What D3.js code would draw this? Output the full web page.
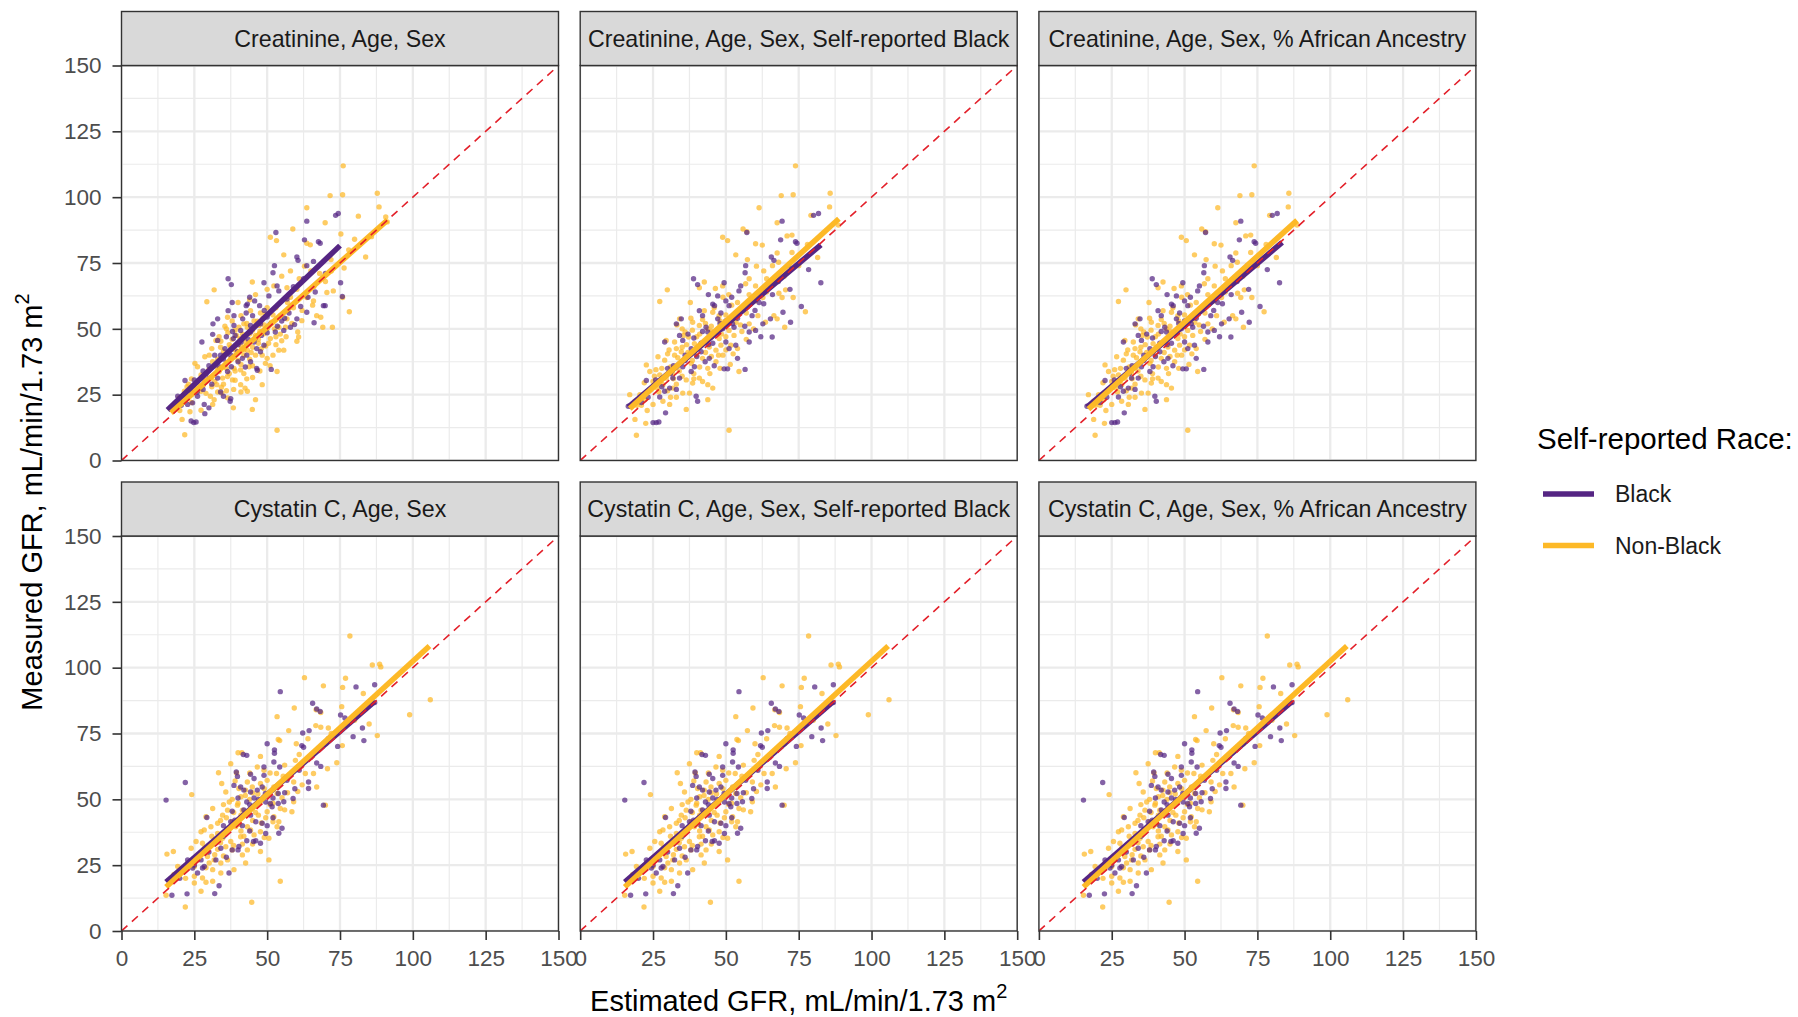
<!DOCTYPE html>
<html><head><meta charset="utf-8">
<script src="https://cdn.jsdelivr.net/npm/d3@7"></script>
<style>body{margin:0;background:#fff;} svg{display:block;font-family:"Liberation Sans",Arial,Helvetica,sans-serif;}</style>
</head><body><svg id="chart" width="1798" height="1017"></svg>
<script>
// ---------------- DATA ----------------
const facetTitles = [
  "Creatinine, Age, Sex",
  "Creatinine, Age, Sex, Self-reported Black",
  "Creatinine, Age, Sex, % African Ancestry",
  "Cystatin C, Age, Sex",
  "Cystatin C, Age, Sex, Self-reported Black",
  "Cystatin C, Age, Sex, % African Ancestry"
];
const xTicks = [0,25,50,75,100,125,150];
const yTicks = [0,25,50,75,100,125,150];
const groups = ["Black","Non-Black"];
const xTitle = "Estimated GFR, mL/min/1.73 m";
const yTitle = "Measured GFR, mL/min/1.73 m";
const legendTitle = "Self-reported Race:";

// Creatinine, Age, Sex  [eGFR, mGFR]
const creatBlack = [[63.6,90.9],[73.5,93.1],[74.4,93.8],[53,86.6],[62.8,83.8],[67.6,83.1],[68.2,82.5],[60.2,77.3],[60.6,76],[65.9,75.6],[63.6,74],[52.5,74],[52,71.3],[36.6,69],[37.7,66.8],[48.9,67.5],[53.4,66.3],[54,64.4],[50.6,62.5],[43.2,59.4],[42.8,58.8],[45.7,60.6],[47.4,58.8],[56.8,61.3],[31.4,51.9],[33,53.8],[36.6,56.9],[38.6,55],[41.6,53.8],[42.8,56],[27.6,45],[31.3,47.9],[33,45.6],[38.1,49],[40.9,49.4],[38.6,51.3],[44.3,51.3],[47.7,51.9],[51.1,51.9],[44.3,48.8],[55.7,49.4],[58,50.6],[60.2,53.8],[63.6,56.3],[66.1,52.3],[69.3,58.8],[59.4,51.6],[45.5,45],[46.4,42.5],[48.9,43.8],[47.7,41.3],[52.8,48.8],[35.5,42.5],[39.8,41.3],[38.4,46.3],[41.5,38.8],[40,37.5],[44.3,37.5],[46.4,35],[46.6,34.3],[51.4,34.6],[37.7,35.6],[36.4,33.8],[33.5,35.6],[21.8,30.4],[25,30.6],[30.1,31.3],[33,31.3],[35,24.4],[37.5,23.5],[37.3,22.5],[28.4,21.3],[28.6,17.8],[23.9,15],[24.8,14.4],[25.6,14.6],[19.3,24.4],[22.7,21.3],[24.4,21.9],[26.1,24.4],[75.2,67.5],[75.8,62.3],[69.9,58.8],[42,47],[45,55],[49,57],[36,47],[34,40],[30,36],[28,27],[40,44],[43,40],[56,54],[29,33],[26,26],[39,47.5],[41,45],[43.5,46],[46,46.5],[48,47.5],[50,48.5],[53.5,51],[55,53],[57.5,56],[61.5,58.5],[64,62],[66.5,64],[59,66],[62.5,69],[70,71],[32,40],[35,38.5],[37.5,40],[42.5,35.5],[28,34],[31,29],[24,26],[20.5,21],[34,26],[30,20],[44,62],[38,60],[50,54.5]];
const creatNonBlack = [[76.1,111.9],[71.6,100.6],[75.9,100.9],[87.8,101.5],[63.6,96],[88.4,96.3],[69.9,90.3],[81.3,92.8],[90.7,92.5],[91.2,90.6],[58.8,87.9],[51.1,84.8],[53.2,83.5],[75.3,86],[63.6,82.5],[64.8,81.9],[85.8,85],[55.7,78.1],[71.9,76.3],[76.4,73.1],[83.8,77.3],[62.8,73.8],[44.9,67.8],[31.8,64.8],[52.3,66.3],[56.8,65.6],[60.2,65],[70.5,63.8],[72.7,64.4],[75.9,61.9],[29.3,60.3],[40,60],[63.6,61.9],[65.9,60.6],[65.6,59],[78.2,56.5],[44.3,56.9],[47.7,56],[49.4,55.6],[36.4,54.4],[52,55.3],[54.5,55],[67,55],[68.4,54.4],[56.8,53.8],[61.9,53.1],[35.5,51],[40.3,50.6],[42,51.9],[43.2,50.6],[46.6,52.9],[47.2,51.3],[69.1,50.6],[72.4,50.6],[54,50.6],[56.3,50.6],[60.5,48.8],[60.8,46.9],[32.4,45.6],[34.1,45.3],[39.5,47.5],[40.7,46.3],[42.6,45],[48.9,48.1],[51.1,46.3],[54,41.9],[55.7,41.9],[60.2,45.3],[28.6,39.4],[30.1,40],[35.2,40],[37.5,38.8],[42,40],[43.2,41.9],[48.3,40],[50,38.8],[49.4,36.9],[25.2,36.9],[26.1,35.6],[31.3,37.5],[33.5,33.8],[38.6,35],[40.9,34.4],[43.8,35.6],[53.4,33.8],[27.3,32.5],[29,30.6],[30.7,31.3],[34.7,31.3],[36.4,31.9],[38.1,30.6],[32.7,28.8],[34.3,27.8],[40.9,28.8],[42.4,27.5],[48.3,28.8],[26.1,27.5],[27.3,26.3],[30.5,24.4],[31.8,23.1],[34.4,25.6],[36.4,23.8],[43.2,26.3],[46,23.1],[21.6,26.3],[22.2,24.4],[19.7,23.8],[21,21.9],[18.2,20],[27.3,19.1],[38.4,20],[44.9,19.4],[20.8,15.6],[21.7,9.8],[53.4,11.5],[31.3,21.3],[36,50],[38,53],[41,55],[44,48],[45.5,53],[47,46],[48.5,54],[50,50],[51.5,52.5],[53,47],[41,43.5],[45,43],[47,44.5],[49.5,43.5],[39,42],[37,44],[35,41.5],[33,38.5],[36,37],[40,38],[44,38.5],[46,40],[52,40],[32,30],[35,29],[37,33],[39,30.5],[43,31],[28,28.5],[24,22],[25,27],[29,25.5],[33,26],[23,29],[38,46],[46,47.5],[50,58],[44,61],[57,57],[62,57],[58,62],[66,66],[68,71],[61,69],[33.5,47],[36.5,48.5],[39,49.5],[41.5,48],[43,52],[45,49.5],[47.5,49],[49,51.5],[52.5,50],[54.5,48],[56.5,47],[58.5,52],[37.5,43],[42,42],[44.5,41],[48,42.5],[50.5,44.5],[53,44],[55,45.5],[31,42.5],[34,43],[38.5,39.5],[41,36.5],[45,36],[47.5,34],[51,36],[30,34.5],[33,35],[36,35],[39,34],[42,33],[45,31.5],[28.5,30],[31,28],[36,26.5],[38.5,27],[41,26],[24,31],[22.5,28],[26,29.5],[20,19],[23.5,18.5],[57,60],[59,58],[53,58],[46,63],[50,65],[55,70],[58,72],[65,72],[70,68],[72,72],[78,80],[80,84]];

// Creatinine with race / ancestry terms
const creatRaceBlack = [[69.3,90.9],[80.1,93.1],[81.8,93.8],[57.2,86.6],[68.8,83.8],[73.9,83.1],[74.4,82.5],[65.6,77.3],[66.5,76],[71.6,74],[56.8,74],[56.6,71.3],[38.9,69],[40.3,66.8],[49.4,67.5],[55.1,66.3],[54.5,64.4],[47.2,62.5],[45.5,59.4],[46.1,58.8],[50,60.6],[51.1,58.8],[61.4,60],[34.7,53.8],[33,51.9],[40.9,56.9],[42,55],[47.2,53.8],[48.3,56],[29,45],[34.1,47.5],[35.2,45.6],[42,49],[43.8,48.8],[43.2,50.6],[48.9,50],[52.3,51.9],[52.8,50.6],[58,48.8],[60.2,49.4],[62.7,51.9],[65.3,53.8],[65.9,46.9],[69.6,56.3],[72.2,52.5],[75.9,58.5],[78.4,72.5],[82.6,67.5],[50,45],[51.1,42.5],[53.4,43.8],[54,38.8],[38.1,42.5],[41.5,41.3],[44.3,38.8],[42.9,37.5],[49.4,34.8],[50.6,34.8],[56.6,34.6],[39.2,35.6],[38.1,33.8],[35.2,35.6],[22.7,30.4],[25.9,30.6],[31.8,31.3],[34.1,31.3],[39.8,24.4],[40.3,22.5],[29.3,18.1],[25,14.4],[26.1,14.4],[27,14.6],[16.5,20.6],[20.5,23.8],[23.3,24],[27.3,24.1],[29,26.3],[30.7,27.5],[45,47],[48,52],[37,48],[36,40],[32,36],[28,28],[44,44],[59,55],[31,33],[39,46.5],[41.5,44.5],[45.5,44.5],[47,48.5],[50,53],[54,54],[56.5,51],[60,57],[63,59.5],[66,63],[68,68],[72,65],[36,38],[40,39.5],[46,36],[30,35],[27,30],[24,27],[21,22],[33,27],[44,63],[52,62],[58,45],[62,47]];
const creatRaceNonBlack = [[73.9,111.9],[69,100.6],[73.1,100.9],[85.8,101.5],[61.4,96],[85.6,96.3],[79.2,93.1],[88.6,89.4],[67.6,90.3],[55.9,87.9],[57.2,86.9],[48.9,84.8],[50.6,83.5],[71,85.3],[72.7,85.6],[60.2,82.3],[62.5,81.8],[67.6,78.8],[72.7,79],[53.4,78.1],[57.4,76.3],[81.5,77.1],[68.1,75.3],[60.5,73.8],[42.6,67.8],[40.9,65.6],[29.9,64.8],[48.9,66.3],[56.8,67.1],[60.2,66.3],[70.5,64.8],[68.2,63.5],[46.4,65.3],[27.3,60.4],[37.8,60],[73.1,61.9],[69.3,61.9],[60.2,60.6],[62.7,61.9],[77.3,56.5],[42.6,56.9],[45.5,56.3],[47.7,55],[34.1,53.8],[50,55.3],[52.8,54.4],[54.5,56.9],[56.8,58.8],[66.5,55],[67.6,53.8],[33.2,51.5],[38.6,52.5],[40.9,51.3],[43.8,50],[36,48.8],[37.2,46.9],[46.6,48.8],[47.7,46.3],[51.1,49.4],[52.8,47.5],[58,51.9],[63.6,52.5],[70.2,50.6],[29.5,45.6],[32.4,45],[39.2,44.4],[41.5,43.8],[44.3,43.1],[46.6,41.9],[48.3,43.8],[51.7,43.8],[54,42.5],[26.7,39.4],[29,38.1],[32.4,40],[34.7,41.3],[36.4,38.8],[38.1,36.9],[42,38.8],[43.8,35],[46.6,37.5],[54.5,33.8],[22.7,36.3],[23.9,33.8],[27.3,32.5],[29.5,31.3],[31.8,33.1],[36.4,30.6],[38.6,29.4],[40.9,31.3],[43.8,28.8],[45.5,27.5],[28.4,28.8],[31.8,27.5],[35.2,25.6],[37.5,25.6],[43.8,23.1],[20.5,25],[22.2,23.1],[17,25],[18.8,22.5],[28.4,22.5],[30.7,21.3],[36.4,19.4],[18.8,15.6],[22.5,14.1],[19.3,9.6],[51.1,11.5],[25,21.3],[35,50],[38,54],[42,53.5],[45,51],[48,53],[50,47],[44,46],[40,47],[35,43],[33,42.5],[30,40.5],[37,41],[40,40],[45,39.5],[49,40],[31,35.5],[34,34],[39,33],[26,34.5],[25,30],[33,29],[27,26],[24,27],[21,21],[31,24],[46,58],[52,59],[58,63],[64,69],[55,51.5],[61,55],[49,62],[35.5,47.5],[38.5,49.5],[41,48],[43,52],[45,49],[48.5,48],[50.5,52],[53.5,52.5],[55.5,49],[57,46],[59.5,50],[36.5,44],[40.5,43],[43,41],[47.5,40],[50,42],[52.5,40.5],[30.5,42],[33.5,39],[38.5,38],[41,35.5],[44.5,33],[48,35],[51.5,36.5],[28,35],[32,31],[35,32],[39,31],[42,30],[25.5,32],[26.5,27.5],[30,26.5],[33,24],[22,29.5],[19.5,21],[23,19],[54,60],[57,56],[51,63],[58,69],[63,72],[66,74],[70,70],[75,74],[78,82],[64,64]];

// Cystatin C panels
const cysBlack = [[54.5,90.9],[80.5,92.7],[86.9,93.5],[65.6,86.5],[67,84.3],[68.2,83.4],[75.2,82],[76.7,80.9],[62.2,75.2],[64.4,76.1],[86.9,86.8],[82.7,77.1],[79.5,73.8],[83.2,72.3],[74.2,70.1],[61.9,70.4],[62.5,69.8],[50,71.1],[52.5,68.8],[52.5,67.5],[41.8,67],[43,66.7],[67,63.8],[68.4,62.5],[52.3,64.2],[54.3,62.3],[48.9,62.3],[21.9,56.4],[39.4,60.4],[39.8,58.7],[44.3,59.5],[45.5,57.9],[48.9,59.1],[56.8,57.2],[64.2,56.6],[64.2,54.1],[38.6,55.3],[40.9,54.7],[42,53.5],[44.3,52.8],[46.6,53.5],[48.3,54.7],[49.4,52.2],[53.8,52.2],[55.7,49.1],[53.8,48.4],[58.9,50.3],[51.1,48.4],[51.7,47.2],[69.3,47.8],[15.3,49.7],[29.3,43.1],[37.5,41.5],[38.9,42.1],[44.3,44],[46.1,41.5],[48.3,40.9],[55.1,39],[54,37.1],[43,34.3],[45.3,34],[46.1,34.3],[47.7,33.3],[40.3,32.1],[40,30.8],[34.1,31.4],[32.4,27],[27.3,27],[28.4,24.5],[22.7,27],[24.4,23.9],[26.1,22],[27.8,23.9],[36.9,22],[22.5,14.1],[17.3,13.6],[32,14.2],[33.5,17.2],[38,30.8],[36.1,38.4],[42,46],[47,50],[35,36],[30,30],[50,40],[44,48],[40,50.5],[43,49],[45.5,50.5],[49.5,49],[52,50.5],[56,52.5],[59.5,54],[61,61],[65,66],[71,73],[38,45.5],[41.5,40],[44,38],[49.5,37],[52,43],[35,40],[31.5,33],[28,30],[25,25],[20,20],[36,28]];
const cysNonBlack = [[78.4,112],[86.1,101],[88.6,101.3],[89,100.3],[62.8,96.2],[76.9,96],[69.3,93.1],[75.9,92.5],[83,90.2],[106,87.8],[98.9,82.1],[87.8,74.2],[59.3,84.7],[53.4,81.4],[66.8,84],[68.4,83],[75.6,85.2],[66.7,78],[68.4,77.4],[71,77.1],[85,78.6],[57.4,76.1],[53.8,72.7],[54.3,72.3],[60,71.1],[75.8,70.4],[70.2,71.1],[41.3,67.7],[40,67.7],[47.7,66.3],[37.5,63.5],[59.7,64.8],[46.6,62.3],[48.9,61],[73.9,63.9],[70.7,61.6],[33.3,60.1],[39.5,60],[53.2,59.8],[55.5,58.8],[63.1,59.8],[65.9,59.8],[59.1,56.6],[67,54.7],[34.4,56],[35.8,52.8],[43.2,56.6],[44.9,54.7],[47.7,56],[50,57.2],[40.3,54.1],[42.6,53.5],[24.1,51.8],[52.3,54.7],[53.4,52.2],[46.8,52],[48.9,51],[55.1,50.6],[59.1,49.1],[70,47.8],[58.5,45.3],[29,43.4],[31.3,46.5],[34.7,44],[36.4,45.9],[39.8,47.8],[41.5,45.9],[43.2,45.3],[44.9,47.2],[46.6,48.4],[50,45.3],[52.3,43.4],[54,41.5],[53.4,39.6],[27.3,37.7],[28.4,38.4],[30.7,39.6],[33,40.9],[38.1,41.5],[39.2,39.6],[43.2,39.6],[44.3,38.4],[47.7,37.7],[50.6,35.2],[40.9,35.8],[25.6,34],[27.8,33.3],[32.4,34.6],[34.7,35.2],[37.5,34],[35.8,32],[38,30.8],[43.2,30.8],[47.7,30.2],[15.6,29.2],[17.8,30.2],[23.9,31.4],[27.3,29.6],[29.5,28.3],[31.8,27],[34.1,25.8],[36.4,27],[41.5,28.9],[42.6,25.8],[50.6,27],[19.3,24.5],[21.6,23.3],[25,20.8],[27.8,20.1],[29,18.5],[31.3,18.9],[34.1,22],[38.6,23.3],[15.3,13.6],[21.9,9.1],[44.7,10.9],[54.5,18.9],[25,18.2],[27.3,15.1],[31.3,23.3],[30.1,25.8],[38,50],[41,51],[44,50],[36,43],[40,42],[45,42],[48,41],[33,37],[36,38],[41,38],[30,32],[33,31],[26,27],[29,24],[23,26],[45,33],[51,48],[56,46],[39,57],[49,54],[35,48],[42,36],[46,45],[37,49],[40,48.5],[42.5,51.5],[45,52.5],[47.5,49],[50,52],[52,48.5],[54.5,46.5],[57,52.5],[60.5,53],[62,55.5],[38.5,45],[41,44],[47,44],[49.5,43],[52,41.5],[34,42],[37,39],[40.5,40.5],[45.5,36.5],[49,35.5],[31,36],[34,33.5],[38.5,32.5],[41.5,33],[28.5,31.5],[32,29],[35,28.5],[25,24.5],[22,20],[18,21.5],[56,63],[61,67],[64,73],[72,75],[80,80],[44,60],[51,60]];

// Fitted regression segments per panel: [x0, y0, x1, y1]
const fitBlack = [[15.8,19.2,75.0,81.6],[16.5,20.3,82.6,81.9],[16.5,20.3,83.5,82.8],[15.3,18.6,86.9,87.2],[15.3,18.6,86.9,87.2],[15.3,18.6,86.9,87.2]];
const fitNonBlack = [[17.0,18.1,91.3,91.3],[17.0,19.7,88.8,91.8],[17.0,19.5,88.6,91.2],[15.3,16.7,105.7,108.2],[15.3,16.7,105.7,108.2],[15.3,16.7,105.7,108.2]];

const panelPoints = [
  [creatBlack, creatNonBlack],
  [creatRaceBlack, creatRaceNonBlack],
  [creatRaceBlack, creatRaceNonBlack],
  [cysBlack, cysNonBlack],
  [cysBlack, cysNonBlack],
  [cysBlack, cysNonBlack]
];

// ---------------- LAYOUT / STYLE ----------------
const W = 437, H = 395, stripH = 54;
const colX = [121.5, 580.2, 1038.9];
const rowY = [65.5, 536];
const colors = {"Black": "#552583", "Non-Black": "#FDB927"};
const svg = d3.select("#chart");
const x = d3.scaleLinear().domain([0,150]).range([0,W]);
const y = d3.scaleLinear().domain([0,150]).range([H,0]);
const minorTicks = d3.range(12.5, 150, 25);

facetTitles.forEach((title, i) => {
  const c = i % 3, r = Math.floor(i / 3);
  const g = svg.append("g").attr("transform", `translate(${colX[c]},${rowY[r]})`);
  const clipId = "clip" + i;
  svg.append("clipPath").attr("id", clipId).append("rect").attr("width", W).attr("height", H);
  g.append("rect").attr("width", W).attr("height", H).attr("fill", "#fff");
  const inner = g.append("g").attr("clip-path", `url(#${clipId})`);
  // grid
  inner.selectAll(".mnx").data(minorTicks).join("line")
    .attr("x1", d => x(d)).attr("x2", d => x(d)).attr("y1", 0).attr("y2", H)
    .attr("stroke", "#EBEBEB").attr("stroke-width", 1.2);
  inner.selectAll(".mny").data(minorTicks).join("line")
    .attr("y1", d => y(d)).attr("y2", d => y(d)).attr("x1", 0).attr("x2", W)
    .attr("stroke", "#EBEBEB").attr("stroke-width", 1.2);
  inner.selectAll(".mjx").data(xTicks).join("line")
    .attr("x1", d => x(d)).attr("x2", d => x(d)).attr("y1", 0).attr("y2", H)
    .attr("stroke", "#EBEBEB").attr("stroke-width", 2.3);
  inner.selectAll(".mjy").data(yTicks).join("line")
    .attr("y1", d => y(d)).attr("y2", d => y(d)).attr("x1", 0).attr("x2", W)
    .attr("stroke", "#EBEBEB").attr("stroke-width", 2.3);
  // points
  const [pb, pn] = panelPoints[i];
  inner.selectAll(".pn").data(pn).join("circle")
    .attr("cx", d => x(d[0])).attr("cy", d => y(d[1])).attr("r", 2.7)
    .attr("fill", colors["Non-Black"]).attr("fill-opacity", 0.72);
  inner.selectAll(".pb").data(pb).join("circle")
    .attr("cx", d => x(d[0])).attr("cy", d => y(d[1])).attr("r", 2.7)
    .attr("fill", colors["Black"]).attr("fill-opacity", 0.72);
  // fit lines
  [[fitBlack[i], "Black"], [fitNonBlack[i], "Non-Black"]].forEach(([f, grp]) => {
    inner.append("line")
      .attr("x1", x(f[0])).attr("y1", y(f[1])).attr("x2", x(f[2])).attr("y2", y(f[3]))
      .attr("stroke", colors[grp]).attr("stroke-width", 5.5);
  });
  // identity line
  inner.append("line")
    .attr("x1", x(0)).attr("y1", y(0)).attr("x2", x(150)).attr("y2", y(150))
    .attr("stroke", "#E3202A").attr("stroke-width", 1.6).attr("stroke-dasharray", "8,6");
  // border
  g.append("rect").attr("width", W).attr("height", H).attr("fill", "none")
    .attr("stroke", "#333333").attr("stroke-width", 1.4);
  // strip
  g.append("rect").attr("y", -stripH).attr("width", W).attr("height", stripH)
    .attr("fill", "#D9D9D9").attr("stroke", "#333333").attr("stroke-width", 1.4);
  g.append("text").attr("x", W/2).attr("y", -stripH/2).attr("dy", "0.35em")
    .attr("text-anchor", "middle").attr("font-size", 23.2).attr("fill", "#1A1A1A").text(title);
  // axes
  if (c === 0) {
    const ax = g.append("g").call(d3.axisLeft(y).tickValues(yTicks).tickSize(9).tickPadding(11));
    ax.select(".domain").remove();
    ax.selectAll("line").attr("stroke", "#333333").attr("stroke-width", 1.6);
    ax.selectAll("text").attr("font-size", 22.5).attr("fill", "#4D4D4D");
  }
  if (r === 1) {
    const ax = g.append("g").attr("transform", `translate(0,${H})`)
      .call(d3.axisBottom(x).tickValues(xTicks).tickSize(9).tickPadding(10));
    ax.select(".domain").remove();
    ax.selectAll("line").attr("stroke", "#333333").attr("stroke-width", 1.6);
    ax.selectAll("text").attr("font-size", 22.5).attr("fill", "#4D4D4D");
  }
});
svg.selectAll("g").attr("font-family", null);

// axis titles
const xt = svg.append("text").attr("x", 798.7).attr("y", 1011).attr("text-anchor", "middle")
  .attr("font-size", 29).attr("fill", "#000");
xt.append("tspan").text(xTitle);
xt.append("tspan").attr("dy", -13).attr("font-size", 20).text("2");

const yt = svg.append("text").attr("transform", "translate(42,502) rotate(-90)").attr("text-anchor", "middle")
  .attr("font-size", 29).attr("fill", "#000");
yt.append("tspan").text(yTitle);
yt.append("tspan").attr("dy", -13).attr("font-size", 20).text("2");

// legend
svg.append("text").attr("x", 1537).attr("y", 449).attr("font-size", 29.5).attr("fill", "#000").text(legendTitle);
const legY = [494, 545.5];
groups.forEach((grp, k) => {
  svg.append("line").attr("x1", 1543).attr("x2", 1594).attr("y1", legY[k]).attr("y2", legY[k])
    .attr("stroke", colors[grp]).attr("stroke-width", 5.5);
  svg.append("text").attr("x", 1615).attr("y", legY[k]).attr("dy", "0.36em")
    .attr("font-size", 23).attr("fill", "#1A1A1A").text(grp);
});
</script></body></html>
